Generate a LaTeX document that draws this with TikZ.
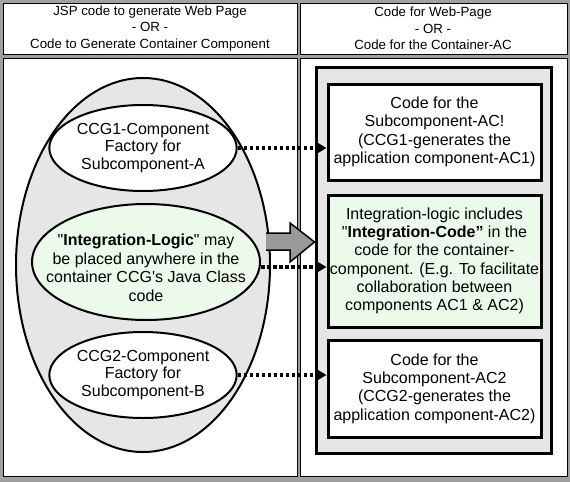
\documentclass[tikz,border=0pt]{standalone}
\usepackage{fontspec}
\setmainfont[Ligatures=TeXOff]{Liberation Sans}
\usetikzlibrary{shapes.geometric,arrows.meta}
\definecolor{shade}{HTML}{E6E6E6}
\definecolor{mint}{HTML}{EBFAEB}
\definecolor{arrowgrey}{HTML}{999999}
\definecolor{framegrey}{HTML}{A0A0A0}
\begin{document}
\begin{tikzpicture}[x=1pt,y=-1pt,
  cell/.style={draw=black, line width=1pt, fill=white},
  hdr/.style={font=\fontsize{13.3}{16.5}\selectfont, align=center, inner sep=0pt},
  oval/.style={ellipse, draw, line width=2pt, fill=white, inner sep=0pt, align=center, font=\fontsize{16}{17.5}\selectfont},
  codebox/.style={draw, line width=3pt, fill=white, inner sep=0pt, align=center, minimum width=213, font=\fontsize{16}{18.3}\selectfont},
  dotarrow/.style={line width=3.5pt, dash pattern=on 3.5pt off 2.5pt, -{Triangle[length=9pt,width=10pt]}}]
\useasboundingbox (0,0) rectangle (570,482);
\fill[framegrey] (0,0) rectangle (570,482);
% table cells
\draw[cell] (3,3) rectangle (297,54);
\draw[cell] (300,3) rectangle (567,54);
\draw[cell] (3,58) rectangle (297,476);
\draw[cell] (300,58) rectangle (567,476);
\node[hdr] (hl) at (150,28.5) {JSP code to generate Web Page\\- OR -\\Code to Generate Container Component};
\node[hdr] (hr) at (433,28.5) {Code for Web-Page\\- OR -\\Code for the Container-AC};
% left side: container CCG
\node[ellipse, draw, line width=2pt, fill=shade, minimum width=254, minimum height=374, inner sep=0pt] (ccg) at (143,265) {};
\node[oval, minimum width=170, minimum height=86] (ccg1) at (143,148) {CCG1-Component\\Factory for\\Subcomponent-A};
\node[oval, fill=mint, minimum width=228, minimum height=116] (intl) at (146,262) {};
\node[align=center, inner sep=0pt, font=\fontsize{16}{18.5}\selectfont] (intltxt) at (146,268) {"\textbf{Integration-Logic}" may\\be placed anywhere in the\\container CCG's Java Class\\code};
\node[oval, minimum width=170, minimum height=86] (ccg2) at (143,375) {CCG2-Component\\Factory for\\Subcomponent-B};
% right side: container AC
\node[draw, line width=3pt, fill=shade, minimum width=235, minimum height=386, inner sep=0pt] (cont) at (433.5,260) {};
\node[codebox, minimum height=96] (box1) at (434.5,132) {Code for the\\Subcomponent-AC!\\(CCG1-generates the\\application component-AC1)};
\node[codebox, fill=mint, minimum height=132] (box2) at (434.5,261) {Integration-logic includes\\"\textbf{Integration-Code”} in the\\code for the container-\\component. (E.g. To facilitate\\collaboration between\\components AC1 \& AC2)};
\node[codebox, minimum height=97] (box3) at (434.5,388.5) {Code for the\\Subcomponent-AC2\\(CCG2-generates the\\application component-AC2)};
% big grey arrow
\draw[line width=1.5pt, fill=arrowgrey, line join=miter]
  (266,233) -- (290,233) -- (290,223) -- (cont.west |- 0,242) -- (290,262) -- (290,250) -- (266,250);
% dotted arrows
\draw[dotarrow] (ccg1.east) -- (box1.west |- ccg1.east);
\path ([yshift=-5pt]intl.east) coordinate (a2);
\draw[dotarrow] (a2) -- (a2 -| box2.west);
\draw[dotarrow] (ccg2.east) -- (box3.west |- ccg2.east);
\end{tikzpicture}
\end{document}
